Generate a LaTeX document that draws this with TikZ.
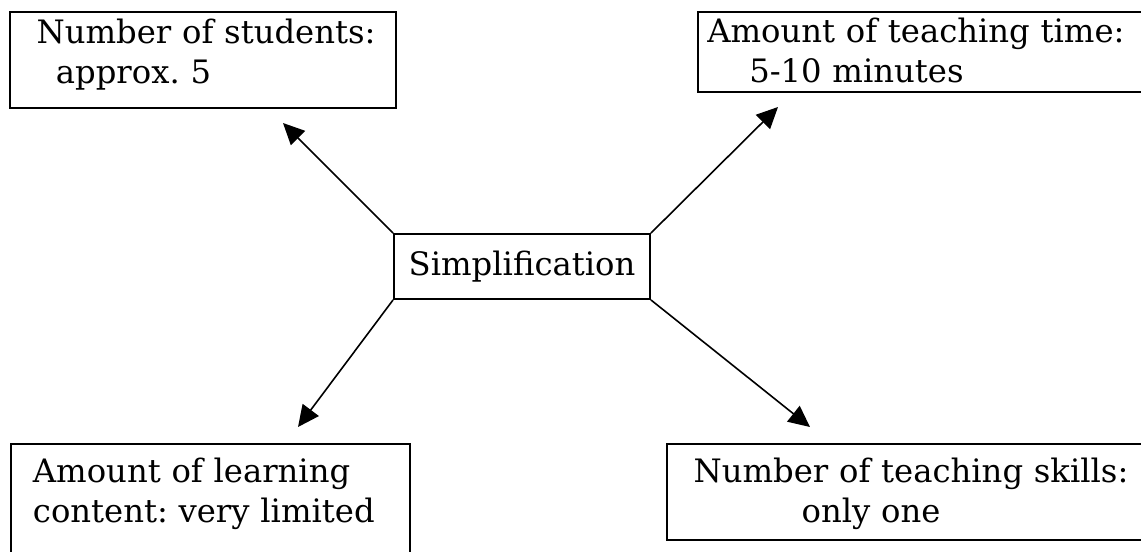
\documentclass[tikz,border=0pt]{standalone}
\usepackage{fontspec}
\setmainfont{DejaVu Serif}
\frenchspacing
\usepackage{tikz}
\usetikzlibrary{arrows.meta}
\tikzset{
    box/.style={draw,line width=1.4pt,anchor=north west,align=left,inner sep=0pt,
        font=\fontsize{24.2pt}{29.5pt}\selectfont},
    mid/.style={draw,line width=1.4pt,inner sep=0pt,minimum width=192pt,minimum height=48.75pt,
        font=\fontsize{24.2pt}{29.5pt}\selectfont},
    spider/.style={
        every edge/.style={draw,line width=1.2pt,-{Triangle[length=16pt,width=15pt]}},
    }
}
\begin{document}
\begin{tikzpicture}[x=0.75pt,y=-0.75pt,spider]
    \useasboundingbox (0,0) rectangle (1141,551);
    \node[mid] (simp) at (522,266.5) {Simplification};
    \node[box,text width=289.5pt,text height=24pt,text depth=48pt] (stud) at (9,11)
        {\hspace*{20pt}Number of students:\\\hspace*{34.5pt}approx. 5};
    \node[box,text width=347pt,text height=23.25pt,text depth=36.75pt] (time) at (697,11)
        {\hspace*{7pt}Amount of teaching time:\\\hspace*{38.5pt}5-10 minutes};
    \node[box,text width=299.25pt,text height=29.25pt,text depth=66pt] (cont) at (10,443)
        {\hspace*{16.5pt}Amount of learning\\\hspace*{16.5pt}content: very limited};
    \node[box,text width=371pt,text height=29.25pt,text depth=42.75pt] (skil) at (666,443)
        {\hspace*{20pt}Number of teaching skills:\\\hspace*{101pt}only one};
    \coordinate (studtip) at (283,123);
    \coordinate (timetip) at (778,107);
    \coordinate (conttip) at (298,427);
    \coordinate (skiltip) at (810,427);
    \path
        (simp.north west) edge (studtip)
        (simp.north east) edge (timetip)
        (simp.south west) edge (conttip)
        (simp.south east) edge (skiltip)
    ;
\end{tikzpicture}
\end{document}
